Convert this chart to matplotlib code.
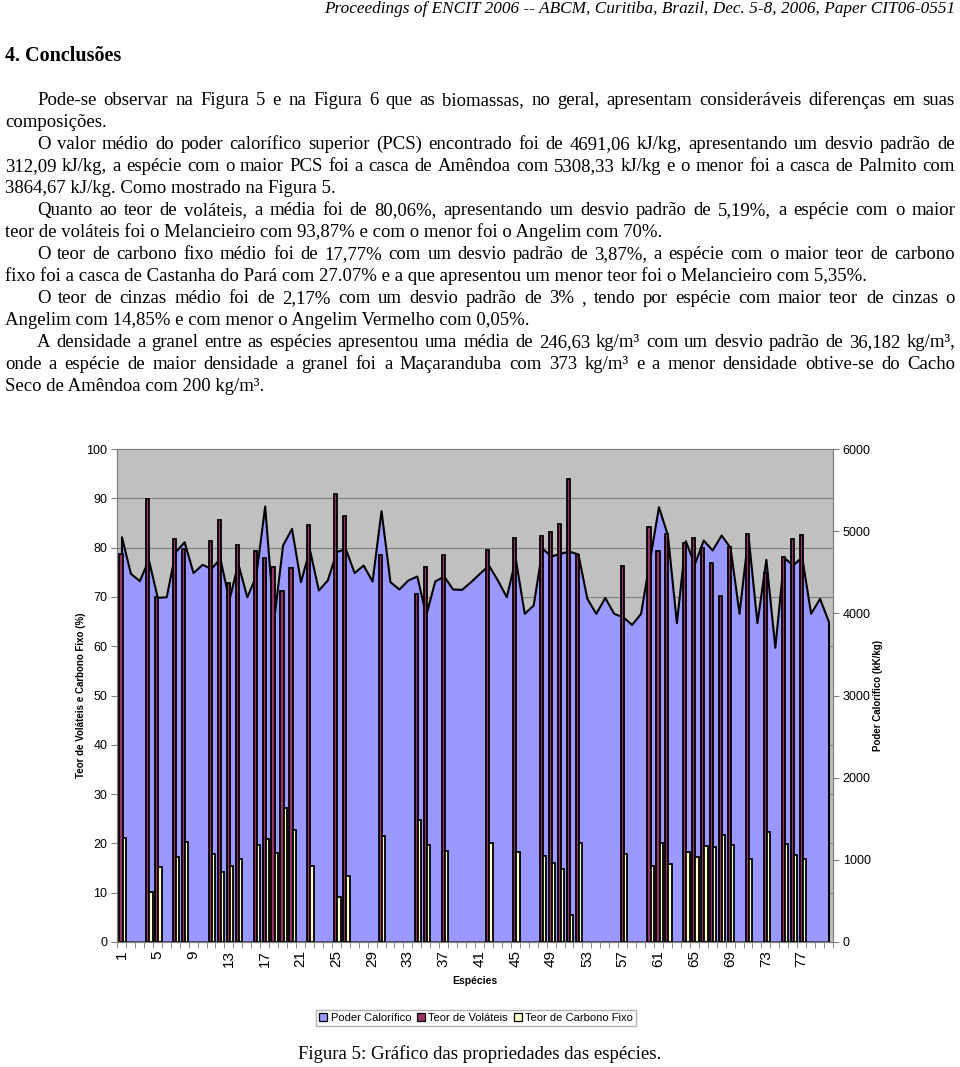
import numpy as np
import matplotlib
matplotlib.use("Agg")
import matplotlib.pyplot as plt
from matplotlib.patches import Patch

# ----------- Data -----------
especies = np.arange(1, 81)

# Poder calorifico (kJ/kg), right axis
poder_calorifico = [
    4932, 4487, 4398, 4657, 4194, 4202, 4750, 4871, 4495, 4596,
    4548, 4669, 4164, 4608, 4202, 4454, 5306, 3918, 4831, 5034,
    4385, 4779, 4284, 4406, 4750, 4791, 4495, 4588, 4393, 5249,
    4385, 4296, 4406, 4454, 3980, 4393, 4454, 4296, 4292, 4385,
    4487, 4588, 4406, 4202, 4669, 4000, 4101, 4791, 4698, 4730,
    4758, 4722, 4182, 4000, 4194, 4000, 3959, 3865, 4000, 4650,
    5298, 4953, 3886, 4884, 4600, 4892, 4771, 4953, 4803, 4000,
    4953, 3886, 4657, 3587, 4681, 4588, 4689, 4000, 4182, 3898,
]

# Teor de volateis (%), 0 = not measured
volateis = [
    78.8, 0, 0, 89.8, 69.9, 0, 81.7, 79.8, 0, 0,
    81.4, 85.6, 72.9, 80.5, 0, 79.4, 77.8, 76.1, 71.1, 75.9,
    0, 84.6, 0, 0, 90.9, 86.5, 0, 0, 0, 78.4,
    0, 0, 0, 70.5, 76.1, 0, 78.4, 0, 0, 0,
    0, 79.5, 0, 0, 82.0, 0, 0, 82.4, 83.1, 84.8,
    93.9, 78.5, 0, 0, 0, 0, 76.3, 0, 0, 84.1,
    79.3, 82.7, 0, 80.9, 81.9, 79.9, 76.8, 70.2, 80.1, 0,
    82.7, 0, 74.8, 0, 78.0, 81.7, 82.6, 0, 0, 0,
]

# Teor de carbono fixo (%), 0 = not measured
carbono_fixo = [
    21.0, 0, 0, 10.2, 15.3, 0, 17.3, 20.3, 0, 0,
    17.8, 14.3, 15.4, 16.8, 0, 19.7, 20.8, 18.1, 27.1, 22.7,
    0, 15.4, 0, 0, 9.2, 13.4, 0, 0, 0, 21.5,
    0, 0, 0, 24.7, 19.7, 0, 18.5, 0, 0, 0,
    0, 20.0, 0, 0, 18.3, 0, 0, 17.4, 16.1, 14.9,
    5.5, 20.0, 0, 0, 0, 0, 17.8, 0, 0, 15.4,
    20.1, 15.8, 0, 18.3, 17.3, 19.5, 19.3, 21.7, 19.7, 0,
    16.8, 0, 22.4, 0, 19.9, 17.6, 16.8, 0, 0, 0,
]

x_labels = np.arange(1, 80, 4)

header = "Proceedings of ENCIT 2006 -- ABCM, Curitiba, Brazil, Dec. 5-8, 2006, Paper CIT06-0551"
section = "4. Conclusões"
# (text, indented, justified)
body = [
    ("Pode-se observar na Figura 5 e na Figura 6 que as biomassas, no geral, apresentam consideráveis diferenças em suas", True, True),
    ("composições.", False, False),
    ("O valor médio do poder calorífico superior (PCS) encontrado foi de 4691,06 kJ/kg, apresentando um desvio padrão de", True, True),
    ("312,09 kJ/kg, a espécie com o maior PCS foi a casca de Amêndoa com 5308,33 kJ/kg e o menor foi a casca de Palmito com", False, True),
    ("3864,67 kJ/kg. Como mostrado na Figura 5.", False, False),
    ("Quanto ao teor de voláteis, a média foi de 80,06%, apresentando um desvio padrão de 5,19%, a espécie com o maior", True, True),
    ("teor de voláteis foi o Melancieiro com 93,87% e com o menor foi o Angelim com 70%.", False, False),
    ("O teor de carbono fixo médio foi de 17,77% com um desvio padrão de 3,87%, a espécie com o maior teor de carbono", True, True),
    ("fixo foi a casca de Castanha do Pará com 27.07% e a que apresentou um menor teor foi o Melancieiro com 5,35%.", False, False),
    ("O teor de cinzas médio foi de 2,17% com um desvio padrão de 3% , tendo por espécie com maior teor de cinzas o", True, True),
    ("Angelim com 14,85% e com menor o Angelim Vermelho com 0,05%.", False, False),
    ("A densidade a granel entre as espécies apresentou uma média de 246,63 kg/m³ com um desvio padrão de 36,182 kg/m³,", True, True),
    ("onde a espécie de maior densidade a granel foi a Maçaranduba com 373 kg/m³ e a menor densidade obtive-se do Cacho", False, True),
    ("Seco de Amêndoa com 200 kg/m³.", False, False),
]
caption = "Figura 5: Gráfico das propriedades das espécies."

# ----------- Figure -----------
W, H = 960, 1067
fig = plt.figure(figsize=(W / 100, H / 100), dpi=100)
renderer = fig.canvas.get_renderer()
serif = "Liberation Serif"
sans = "Liberation Sans"


def px(x, y):
    return x / W, 1 - y / H


def put_line(text, x0, y, x1=None, **kw):
    if x1 is None:
        fig.text(*px(x0, y), text, va="baseline", **kw)
        return
    words = text.split(" ")
    items = [fig.text(*px(x0, y), w, va="baseline", **kw) for w in words]
    widths = [t.get_window_extent(renderer).width for t in items]
    gap = (x1 - x0 - sum(widths)) / (len(words) - 1)
    x = x0
    for t, w in zip(items, widths):
        t.set_position(px(x, y))
        x += w + gap


fig.text(*px(955, 13), header, ha="right", va="baseline", family=serif,
         style="italic", fontsize=12.4)
fig.text(*px(5, 61), section, va="baseline", family=serif,
         weight="bold", fontsize=14.5)
for k, (line, indent, just) in enumerate(body):
    put_line(line, 37 if indent else 5, 105 + 22 * k,
             955 if just else None, family=serif, fontsize=13.5)
fig.text(*px(480, 1059), caption, ha="center", va="baseline",
         family=serif, fontsize=13.5)

# ----------- Chart -----------
plt.rcParams["font.family"] = sans
ax2 = fig.add_axes([117 / W, 1 - 942 / H, 716 / W, 493 / H])
ax = ax2.twinx()
ax2.yaxis.tick_right()
ax2.yaxis.set_label_position("right")
ax.yaxis.tick_left()
ax.yaxis.set_label_position("left")
ax.set_zorder(ax2.get_zorder() + 1)
ax.patch.set_visible(False)
ax2.set_facecolor("#C0C0C0")

# area: poder calorifico (right scale)
ax2.fill_between(especies, poder_calorifico, color="#9999FF",
                 edgecolor="black", linewidth=1.5, zorder=2)
ax2.set_ylim(0, 6000)
ax2.set_yticks(np.arange(0, 6001, 1000))
ax2.set_yticks(np.arange(0, 6001, 600), minor=True)
ax2.grid(which="minor", axis="y", color="#808080", linewidth=0.8, zorder=1)
ax2.tick_params(axis="y", which="minor", length=0)

# bars: volateis and carbono fixo (left scale)
vol = np.array(volateis)
cf = np.array(carbono_fixo)
m = vol > 0
bw = 0.36
ax.bar(especies[m] - 0.06, vol[m], width=bw, color="#993366",
       edgecolor="black", linewidth=1.3)
m = cf > 0
ax.bar(especies[m] + 0.30, cf[m], width=bw, color="#FFFFCC",
       edgecolor="black", linewidth=1.3)
ax.set_ylim(0, 100)
ax.set_yticks(np.arange(0, 101, 10))
ax.set_xlim(0.5, 80.5)

ax2.set_xticks(x_labels)
ax2.set_xticklabels([str(v) for v in x_labels], rotation=90, fontsize=11)
ax2.set_xticks(np.arange(0.5, 81, 1), minor=True)
ax2.tick_params(axis="x", which="major", length=0, pad=6)
ax2.tick_params(axis="x", which="minor", length=4, color="#808080")
ax2.set_xlim(0.5, 80.5)

for a in (ax, ax2):
    a.tick_params(axis="y", which="major", length=4, color="#808080",
                  labelsize=9, pad=3)
    for s in a.spines.values():
        s.set_color("#808080")

ax.set_ylabel("Teor de Voláteis e Carbono Fixo (%)", fontsize=7,
              weight="bold")
ax.yaxis.set_label_coords(-0.043, 0.5)
ax2.set_ylabel("Poder Calorífico (kK/kg)", fontsize=7, weight="bold")
ax2.yaxis.set_label_coords(1.056, 0.5)
ax2.set_xlabel("Espécies", fontsize=7.5, weight="bold")
ax2.xaxis.set_label_coords(0.5, -0.069)

handles = [
    Patch(facecolor="#9999FF", edgecolor="black", linewidth=0.9),
    Patch(facecolor="#993366", edgecolor="black", linewidth=0.9),
    Patch(facecolor="#FFFFCC", edgecolor="black", linewidth=0.9),
]
fig.legend(handles, ["Poder Calorífico", "Teor de Voláteis", "Teor de Carbono Fixo"],
           loc="center", bbox_to_anchor=(476 / W, 1 - 1018 / H), ncol=3,
           fontsize=8, frameon=True, fancybox=False, edgecolor="#A0A0A0",
           handlelength=0.75, handleheight=0.75, handletextpad=0.3,
           columnspacing=0.5, borderpad=0.3)

fig.savefig("out.png", dpi=100)
